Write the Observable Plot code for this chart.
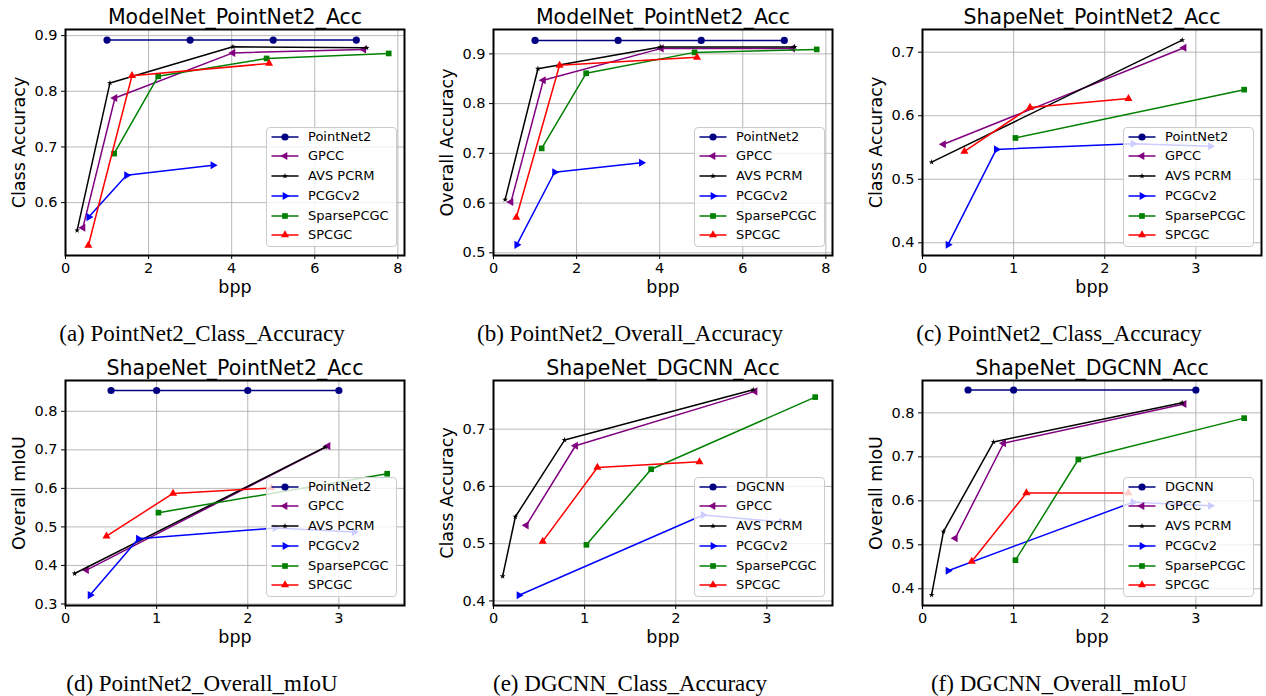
<!DOCTYPE html>
<html>
<head>
<meta charset="utf-8">
<script src="https://cdn.jsdelivr.net/npm/d3@7"></script>
<script src="https://cdn.jsdelivr.net/npm/@observablehq/plot@0.6"></script>
<style>
  body { margin: 0; background: #fff; }
  #fig { position: relative; width: 1266px; height: 696px; overflow: hidden; background: #fff; font-family: "DejaVu Sans"; }
  .cap { position: absolute; font-family: "Liberation Serif"; font-size: 23px; line-height: 23px; white-space: nowrap; transform: translateX(-50%); color: #000; }
  .leg { position: absolute; box-sizing: border-box; border: 1px solid #cccccc; border-radius: 4px; background: rgba(255,255,255,0.8); }
  .leg svg { position: absolute; overflow: visible; }
  .leg span { position: absolute; font-family: "DejaVu Sans"; font-size: 13px; line-height: 14px; white-space: nowrap; color: #000; }
</style>
</head>
<body>
<div id="fig"></div>
<script>
// ---------------- DATA ----------------
const seriesNames = ["GPCC", "AVS PCRM", "PCGCv2", "SparsePCGC", "SPCGC"];
const baselineNames = ["PointNet2", "PointNet2", "PointNet2", "PointNet2", "DGCNN", "DGCNN"];
const titles = ["ModelNet_PointNet2_Acc", "ModelNet_PointNet2_Acc", "ShapeNet_PointNet2_Acc",
                "ShapeNet_PointNet2_Acc", "ShapeNet_DGCNN_Acc", "ShapeNet_DGCNN_Acc"];
const yLabels = ["Class Accuracy", "Overall Accuracy", "Class Accuracy", "Overall mIoU", "Class Accuracy", "Overall mIoU"];
const xLabel = "bpp";
const captions = ["(a) PointNet2_Class_Accuracy", "(b) PointNet2_Overall_Accuracy", "(c) PointNet2_Class_Accuracy",
                  "(d) PointNet2_Overall_mIoU", "(e) DGCNN_Class_Accuracy", "(f) DGCNN_Overall_mIoU"];
const xTicksWide = [0, 2, 4, 6, 8];
const xTicksNarrow = [0, 1, 2, 3];
const yTicksA = [0.6, 0.7, 0.8, 0.9];
const yTicksB = [0.5, 0.6, 0.7, 0.8, 0.9];
const yTicksC = [0.4, 0.5, 0.6, 0.7];
const yTicksD = [0.3, 0.4, 0.5, 0.6, 0.7, 0.8];
const yTicksE = [0.4, 0.5, 0.6, 0.7];
const yTicksF = [0.4, 0.5, 0.6, 0.7, 0.8];
const xDomainWide = [0, 8.16];
const xDomainNarrow = [0, 3.72];
const yDomains = [[0.505, 0.911], [0.4946, 0.949], [0.38, 0.7357], [0.296, 0.88], [0.392, 0.785], [0.362, 0.8736]];

// (a) ModelNet PointNet2 class accuracy
const a_base   = [[1.0, 0.892], [3.0, 0.892], [5.0, 0.892], [7.0, 0.892]];
const a_GPCC   = [[0.42, 0.555], [1.19, 0.788], [4.03, 0.869], [7.18, 0.875]];
const a_AVS    = [[0.28, 0.550], [1.07, 0.815], [4.03, 0.880], [7.25, 0.878]];
const a_PCGCv2 = [[0.56, 0.574], [1.47, 0.649], [3.55, 0.667]];
const a_Sparse = [[1.17, 0.688], [2.23, 0.827], [4.84, 0.859], [7.78, 0.868]];
const a_SPCGC  = [[0.55, 0.523], [1.60, 0.828], [4.90, 0.850]];
// (b) ModelNet PointNet2 overall accuracy
const b_base   = [[1.0, 0.927], [3.0, 0.927], [5.0, 0.927], [7.0, 0.927]];
const b_GPCC   = [[0.42, 0.602], [1.20, 0.847], [4.04, 0.911], [7.20, 0.911]];
const b_AVS    = [[0.28, 0.607], [1.07, 0.870], [4.02, 0.914], [7.25, 0.914]];
const b_PCGCv2 = [[0.56, 0.516], [1.47, 0.662], [3.56, 0.681]];
const b_Sparse = [[1.16, 0.710], [2.23, 0.861], [4.84, 0.903], [7.78, 0.909]];
const b_SPCGC  = [[0.55, 0.571], [1.59, 0.877], [4.90, 0.893]];
// (c) ShapeNet PointNet2 class accuracy
const c_base   = [];
const c_GPCC   = [[0.23, 0.555], [2.87, 0.707]];
const c_AVS    = [[0.10, 0.527], [2.85, 0.719]];
const c_PCGCv2 = [[0.28, 0.397], [0.81, 0.547], [2.31, 0.556], [3.16, 0.552]];
const c_Sparse = [[1.02, 0.565], [3.53, 0.641]];
const c_SPCGC  = [[0.46, 0.544], [1.18, 0.613], [2.26, 0.627]];
// (d) ShapeNet PointNet2 overall mIoU
const d_base   = [[0.5, 0.854], [1.0, 0.854], [2.0, 0.854], [3.0, 0.854]];
const d_GPCC   = [[0.23, 0.388], [2.88, 0.710]];
const d_AVS    = [[0.10, 0.379], [2.85, 0.707]];
const d_PCGCv2 = [[0.27, 0.323], [0.80, 0.469], [2.30, 0.497], [3.17, 0.487]];
const d_Sparse = [[1.02, 0.537], [3.53, 0.638]];
const d_SPCGC  = [[0.45, 0.476], [1.18, 0.587], [2.26, 0.601]];
// (e) ShapeNet DGCNN class accuracy
const e_base   = [];
const e_GPCC   = [[0.36, 0.532], [0.90, 0.671], [2.87, 0.766]];
const e_AVS    = [[0.10, 0.443], [0.24, 0.547], [0.78, 0.681], [2.85, 0.769]];
const e_PCGCv2 = [[0.28, 0.410], [2.30, 0.550], [3.16, 0.538]];
const e_Sparse = [[1.02, 0.498], [1.73, 0.630], [3.53, 0.756]];
const e_SPCGC  = [[0.54, 0.504], [1.14, 0.633], [2.26, 0.643]];
// (f) ShapeNet DGCNN overall mIoU
const f_base   = [[0.5, 0.852], [1.0, 0.852], [3.0, 0.852]];
const f_GPCC   = [[0.36, 0.515], [0.89, 0.731], [2.87, 0.820]];
const f_AVS    = [[0.10, 0.386], [0.23, 0.530], [0.78, 0.734], [2.85, 0.823]];
const f_PCGCv2 = [[0.28, 0.441], [2.31, 0.597], [3.16, 0.589]];
const f_Sparse = [[1.02, 0.465], [1.71, 0.694], [3.53, 0.788]];
const f_SPCGC  = [[0.54, 0.462], [1.14, 0.618], [2.26, 0.618]];

// ---------------- STYLE / LAYOUT ----------------
const styles = [
  {color: "#000080", symbol: "circle",   rotate: 0,   r: 3.6},
  {color: "#800080", symbol: "triangle", rotate: -90, r: 3.0},
  {color: "#000000", symbol: "star",     rotate: 0,   r: 1.8},
  {color: "#0000ff", symbol: "triangle", rotate: 90,  r: 3.0},
  {color: "#008000", symbol: "square",   rotate: 0,   r: 3.2},
  {color: "#ff0000", symbol: "triangle", rotate: 0,   r: 3.0}
];
const frames = [
  {L: 65, R: 404, T: 29, B: 255}, {L: 493, R: 832, T: 29, B: 255}, {L: 922, R: 1261, T: 29, B: 255},
  {L: 65, R: 404, T: 380, B: 605}, {L: 493, R: 832, T: 380, B: 605}, {L: 922, R: 1261, T: 380, B: 605}
];
const capPos = [[202, 322], [630, 322], [1059, 322], [202, 672], [630, 672], [1059, 672]];

const panels = [
  {series: [a_base, a_GPCC, a_AVS, a_PCGCv2, a_Sparse, a_SPCGC], xTicks: xTicksWide, xDomain: xDomainWide, yTicks: yTicksA},
  {series: [b_base, b_GPCC, b_AVS, b_PCGCv2, b_Sparse, b_SPCGC], xTicks: xTicksWide, xDomain: xDomainWide, yTicks: yTicksB},
  {series: [c_base, c_GPCC, c_AVS, c_PCGCv2, c_Sparse, c_SPCGC], xTicks: xTicksNarrow, xDomain: xDomainNarrow, yTicks: yTicksC},
  {series: [d_base, d_GPCC, d_AVS, d_PCGCv2, d_Sparse, d_SPCGC], xTicks: xTicksNarrow, xDomain: xDomainNarrow, yTicks: yTicksD},
  {series: [e_base, e_GPCC, e_AVS, e_PCGCv2, e_Sparse, e_SPCGC], xTicks: xTicksNarrow, xDomain: xDomainNarrow, yTicks: yTicksE},
  {series: [f_base, f_GPCC, f_AVS, f_PCGCv2, f_Sparse, f_SPCGC], xTicks: xTicksNarrow, xDomain: xDomainNarrow, yTicks: yTicksF}
];

const fig = document.getElementById("fig");
const symbolMap = {circle: d3.symbolCircle, triangle: d3.symbolTriangle, star: d3.symbolStar, square: d3.symbolSquare};

panels.forEach((p, k) => {
  const fr = frames[k];
  const mL = 65, mR = 4, mT = 32, mB = 48;
  const W = fr.R - fr.L, H = fr.B - fr.T;
  const marks = [
    Plot.gridX(p.xTicks, {stroke: "#b0b0b0", strokeOpacity: 1, strokeWidth: 0.9}),
    Plot.gridY(p.yTicks, {stroke: "#b0b0b0", strokeOpacity: 1, strokeWidth: 0.9})
  ];
  p.series.forEach((data, i) => {
    const s = styles[i];
    marks.push(Plot.line(data, {x: d => d[0], y: d => d[1], stroke: s.color, strokeWidth: 1.5}));
    marks.push(Plot.dot(data, {x: d => d[0], y: d => d[1], symbol: s.symbol, rotate: s.rotate, r: s.r, fill: s.color, stroke: "none"}));
  });
  marks.push(
    Plot.axisX({ticks: p.xTicks, tickFormat: d3.format("d"), tickSize: 4, tickPadding: 3, fontSize: 14.5, label: null}),
    Plot.axisY({ticks: p.yTicks, tickFormat: d3.format(".1f"), tickSize: 4, tickPadding: 4, fontSize: 14.5, label: null}),
    Plot.frame({stroke: "#000", strokeWidth: 2}),
    Plot.text([titles[k]], {text: d => d, frameAnchor: "top", textAnchor: "middle", lineAnchor: "bottom", dy: -5.5, fontSize: 20.5}),
    Plot.text([yLabels[k]], {text: d => d, frameAnchor: "left", textAnchor: "middle", lineAnchor: "middle", rotate: -90, dx: -46, fontSize: 17.5}),
    Plot.text([xLabel], {text: d => d, frameAnchor: "bottom", textAnchor: "middle", lineAnchor: "middle", dy: 32, fontSize: 17.5})
  );
  const svg = Plot.plot({
    width: W + mL + mR, height: H + mT + mB,
    marginLeft: mL, marginRight: mR, marginTop: mT, marginBottom: mB,
    x: {domain: p.xDomain}, y: {domain: yDomains[k]},
    style: {fontFamily: "DejaVu Sans", fontSize: "14px", color: "#000", background: "transparent", maxWidth: "none", overflow: "visible"},
    marks
  });
  svg.style.position = "absolute";
  svg.style.left = (fr.L - mL) + "px";
  svg.style.top = (fr.T - mT) + "px";
  fig.appendChild(svg);

  // legend
  const lw = 131, lh = 120;
  const leg = document.createElement("div");
  leg.className = "leg";
  leg.style.left = (fr.R - 7 - lw) + "px";
  leg.style.top = (fr.B - 8 - lh) + "px";
  leg.style.width = lw + "px";
  leg.style.height = lh + "px";
  const labels = [baselineNames[k], ...seriesNames];
  labels.forEach((lab, i) => {
    const s = styles[i];
    const cy = 9.7 + 19.7 * i;
    const sv = d3.create("svg").attr("width", 28).attr("height", 14)
      .style("left", "4px").style("top", (cy - 8) + "px");
    sv.append("line").attr("x1", 0.5).attr("x2", 27.5).attr("y1", 7).attr("y2", 7)
      .attr("stroke", s.color).attr("stroke-width", 1.5);
    sv.append("path").attr("d", d3.symbol(symbolMap[s.symbol], Math.PI * s.r * s.r)())
      .attr("transform", `translate(14,7) rotate(${s.rotate})`).attr("fill", s.color);
    leg.appendChild(sv.node());
    const sp = document.createElement("span");
    sp.textContent = lab;
    sp.style.left = "41px";
    sp.style.top = (cy - 8) + "px";
    leg.appendChild(sp);
  });
  fig.appendChild(leg);

  // caption
  const cap = document.createElement("div");
  cap.className = "cap";
  cap.textContent = captions[k];
  cap.style.left = capPos[k][0] + "px";
  cap.style.top = capPos[k][1] + "px";
  fig.appendChild(cap);
});
</script>
</body>
</html>
